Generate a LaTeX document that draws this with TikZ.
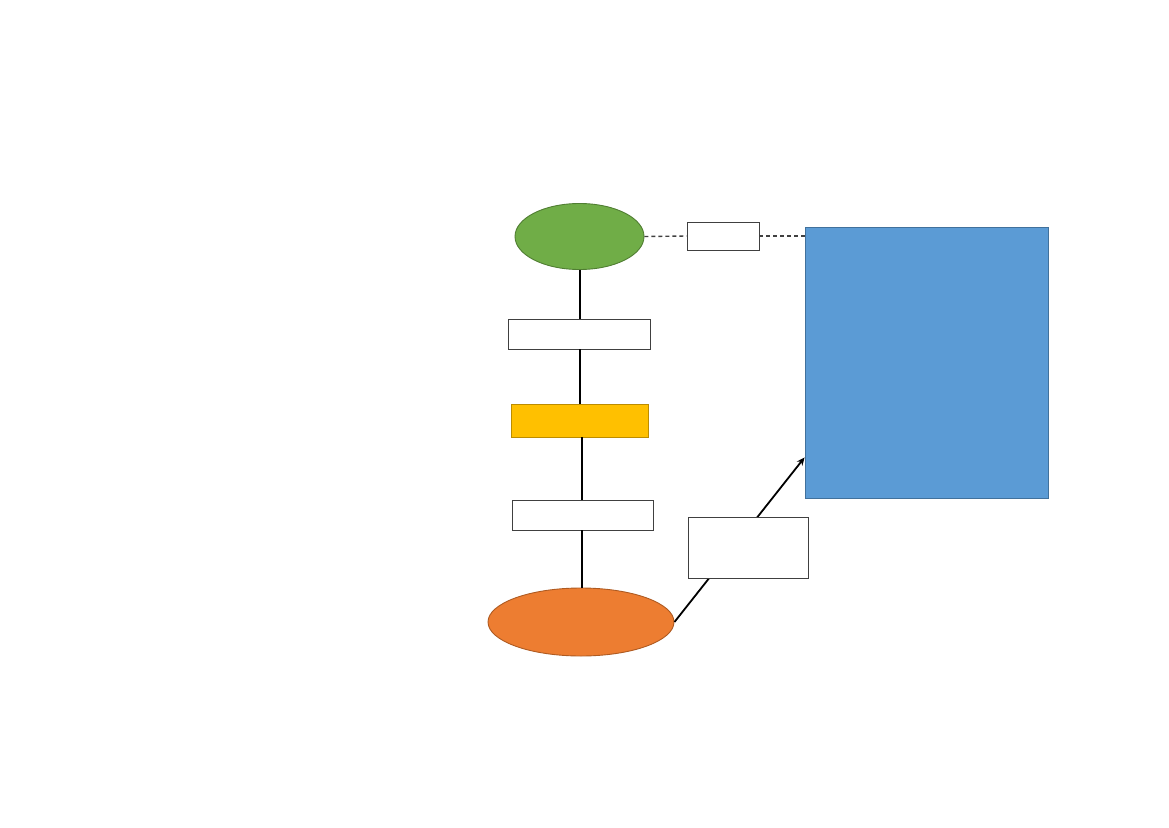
\documentclass[tikz,border=0pt]{standalone}
\usetikzlibrary{arrows.meta,shapes.geometric}
\definecolor{grn}{HTML}{70AD47}\definecolor{grnb}{HTML}{507E32}
\definecolor{blu}{HTML}{5B9BD5}\definecolor{blub}{HTML}{41719C}
\definecolor{ylw}{HTML}{FFC000}\definecolor{ylwb}{HTML}{BC8C00}
\definecolor{org}{HTML}{ED7D31}\definecolor{orgb}{HTML}{AE5A21}
\definecolor{dgray}{HTML}{404040}
\tikzset{
  wbox/.style={draw=dgray,fill=white,line width=0.9pt,inner sep=0pt},
  ell/.style={ellipse,inner sep=0pt,line width=0.9pt},
  conn/.style={draw=black,line width=1.8pt},
  dconn/.style={draw=dgray,line width=1.4pt,dash pattern=on 4pt off 3pt},
}
\begin{document}
\begin{tikzpicture}[x=1pt,y=-1pt]
\useasboundingbox (0,0) rectangle (1169,827);
% nodes
\node[ell,fill=grn,draw=grnb,minimum width=129pt,minimum height=66pt] (g) at (579.5,236.5) {};
\node[wbox,minimum width=72pt,minimum height=28pt] (t) at (723,236) {};
\node[draw=blub,fill=blu,line width=0.9pt,minimum width=243pt,minimum height=271pt,inner sep=0pt] (b) at (926.5,362.5) {};
\node[wbox,minimum width=142pt,minimum height=30pt] (b1) at (579,334) {};
\node[draw=ylwb,fill=ylw,line width=0.9pt,minimum width=137pt,minimum height=33pt,inner sep=0pt] (y) at (579.5,420.5) {};
\node[wbox,minimum width=141pt,minimum height=30pt] (b2) at (582.5,515) {};
\node[ell,fill=org,draw=orgb,minimum width=186pt,minimum height=68pt] (o) at (581,622) {};
% connectors
\draw[dconn] (g.east) -- (t.west);
\draw[dconn] (t.east) -- (t.east -| b.west);
\draw[conn] ([xshift=0.5pt]g.south) -- ([xshift=1pt]b1.north);
\draw[conn] ([xshift=1pt]b1.south) -- ([xshift=0.5pt]y.north);
\draw[conn] ([xshift=2.5pt]y.south) -- ([xshift=-0.5pt]b2.north);
\draw[conn] ([xshift=-0.5pt]b2.south) -- ([xshift=1pt]o.north);
\draw[conn,-{Stealth[length=8pt,width=7pt]}] (o.east) -- ([yshift=41pt]b.south west);
\node[wbox,minimum width=120pt,minimum height=61pt] (m) at (748,547.5) {};
\end{tikzpicture}
\end{document}
